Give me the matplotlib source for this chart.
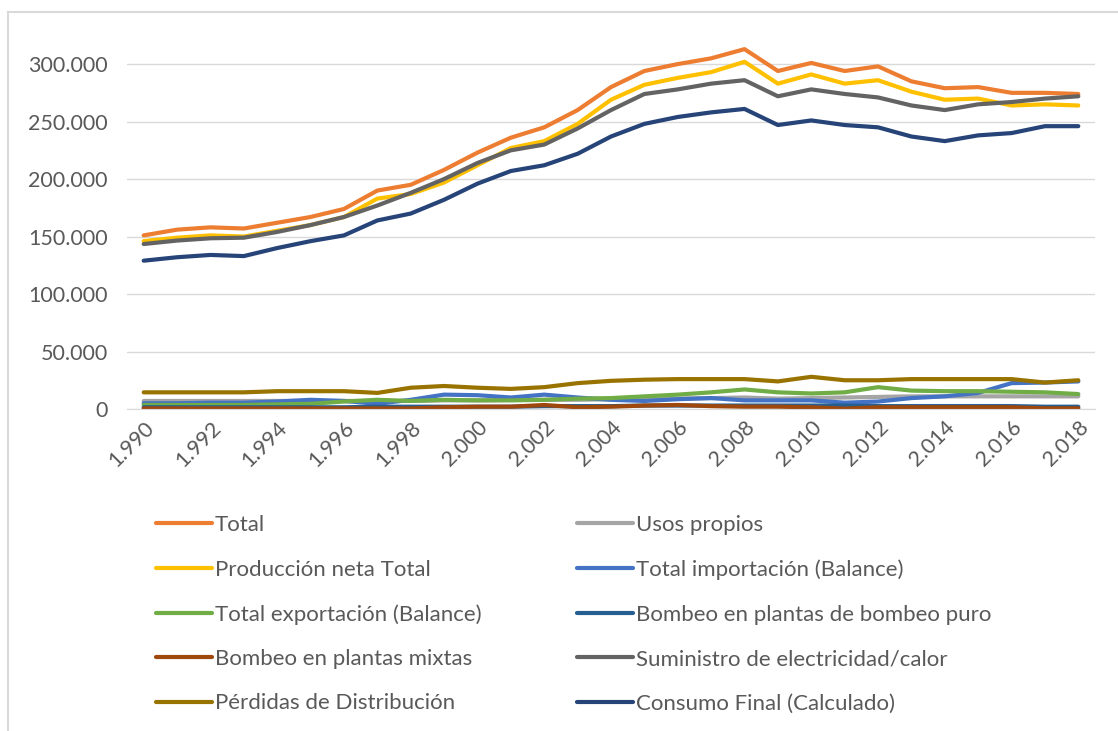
import matplotlib.pyplot as plt
from matplotlib.lines import Line2D
from matplotlib.ticker import FuncFormatter

plt.rcParams['font.family'] = ['Lato', 'DejaVu Sans']

years = list(range(1990, 2019))

total = [151, 156, 158, 157, 162, 167, 174, 190, 195, 208, 223, 236, 245, 260, 280,
         294, 300, 305, 313, 294, 301, 294, 298, 285, 279, 280, 275, 275, 274]
usos_propios = [7, 7, 7, 7, 7, 7, 7, 7, 7, 7.5, 7.5, 8, 8, 8, 8.5,
                9, 9, 9.5, 10, 9, 9.5, 10, 10.5, 11, 11, 11, 11, 11, 11]
produccion = [146, 149, 151, 150, 155, 160, 167, 183, 187, 197, 212, 227, 233, 248, 269,
              282, 288, 293, 302, 283, 291, 283, 286, 276, 269, 270, 264, 265, 264]
importacion = [5, 5, 5.5, 5.5, 6.5, 8, 7, 4.5, 8, 12.5, 12, 10, 12.5, 10, 8,
               7, 8.5, 9.5, 7.5, 7.5, 7.5, 5.5, 6.5, 9.5, 11, 14, 22.5, 23, 24]
exportacion = [3.5, 3.5, 3.5, 3.5, 4, 4.5, 6.5, 8, 7, 8, 7.5, 7.5, 8, 9, 9.5,
               11, 12.5, 14.5, 17, 14.5, 13.5, 14.5, 19, 16, 15.5, 15.5, 15, 14.5, 13]
bombeo_puro = [1.5, 1.5, 1.5, 1.5, 1.5, 1.5, 1.5, 2, 2, 2, 2, 2, 2.5, 2.5, 2.5,
               3, 3, 3, 3, 3, 3, 3, 2.5, 2.5, 2.5, 2.5, 2.5, 2, 2]
bombeo_mixtas = [0.5, 0.5, 0.5, 0.5, 0.5, 0.5, 0.5, 0.5, 0.5, 1.5, 2, 2, 3.5, 1.5, 2,
                 3, 3.5, 2.5, 2, 2, 1.5, 0.3, 1.5, 1.5, 1.5, 1.5, 1.5, 0.6, 0.6]
suministro = [143.5, 146.5, 148.5, 149, 154, 160, 167, 177, 188, 200, 214, 225, 230, 244, 260,
              274, 278, 283, 286, 272, 278, 274, 271, 264, 260, 265, 267, 270, 272]
perdidas = [14.5, 14.5, 14.5, 14.5, 15.5, 15.5, 15.5, 14, 18.5, 20, 18.5, 17.5, 19, 22.5, 24.5,
            25.5, 26, 26, 26, 24, 28, 25, 25, 26, 26, 26, 26, 23, 25]
consumo = [129, 132, 134, 133, 140, 146, 151, 164, 170, 182, 196, 207, 212, 222, 237,
           248, 254, 258, 261, 247, 251, 247, 245, 237, 233, 238, 240, 246, 246]

series = [
    ("Total", total, "#ED7D31"),
    ("Usos propios", usos_propios, "#A5A5A5"),
    ("Producción neta Total", produccion, "#FFC000"),
    ("Total importación (Balance)", importacion, "#4472C4"),
    ("Total exportación (Balance)", exportacion, "#70AD47"),
    ("Bombeo en plantas de bombeo puro", bombeo_puro, "#255E91"),
    ("Bombeo en plantas mixtas", bombeo_mixtas, "#9E480E"),
    ("Suministro de electricidad/calor", suministro, "#636363"),
    ("Pérdidas de Distribución", perdidas, "#997300"),
    ("Consumo Final (Calculado)", consumo, "#264478"),
]

W, H = 1118, 731
fig = plt.figure(figsize=(W / 100, H / 100), dpi=100)
ax = fig.add_axes([127 / W, (H - 409) / H, (1095 - 127) / W, (409 - 15) / H])

handles = {}
for name, vals, col in series:
    ln, = ax.plot(years, [v * 1000 for v in vals], color=col, lw=3,
                  solid_capstyle='round', solid_joinstyle='round', label=name)
    handles[name] = ln

ax.set_xlim(1989.5, 2018.5)
ax.set_ylim(0, 342700)
ax.set_yticks(range(0, 300001, 50000))
ax.yaxis.set_major_formatter(FuncFormatter(lambda v, p: f"{int(v):,}".replace(",", ".")))
ax.set_xticks(years[::2])
ax.set_xticklabels([f"{y:,}".replace(",", ".") for y in years[::2]],
                   rotation=45, ha='right', va='top', rotation_mode='anchor')
ax.grid(axis='y', color='#D9D9D9', lw=1)
ax.set_axisbelow(True)
for s in ['top', 'right', 'left']:
    ax.spines[s].set_visible(False)
ax.spines['bottom'].set_color('#D9D9D9')
ax.tick_params(axis='both', length=0, labelsize=15.5, colors='#595959')
ax.tick_params(axis='y', pad=14)
ax.tick_params(axis='x', pad=6)

# chart border
fig.add_artist(Line2D([8 / W, 8 / W], [0, 1 - 12 / H], transform=fig.transFigure,
                      color='#D9D9D9', lw=1.5))
fig.add_artist(Line2D([8 / W, 1], [1 - 12 / H, 1 - 12 / H], transform=fig.transFigure,
                      color='#D9D9D9', lw=1.5))

order = ["Total", "Producción neta Total", "Total exportación (Balance)",
         "Bombeo en plantas mixtas", "Pérdidas de Distribución",
         "Usos propios", "Total importación (Balance)", "Bombeo en plantas de bombeo puro",
         "Suministro de electricidad/calor", "Consumo Final (Calculado)"]
leg = fig.legend([handles[n] for n in order], order, ncol=2, loc='upper left',
                 bbox_to_anchor=(145 / W, 1 - 504 / H), frameon=False, borderpad=0,
                 fontsize=16, labelcolor='#595959', handlelength=2.5,
                 handletextpad=0.15, labelspacing=1.1, columnspacing=4.3)

fig.savefig("out.png", dpi=100)
